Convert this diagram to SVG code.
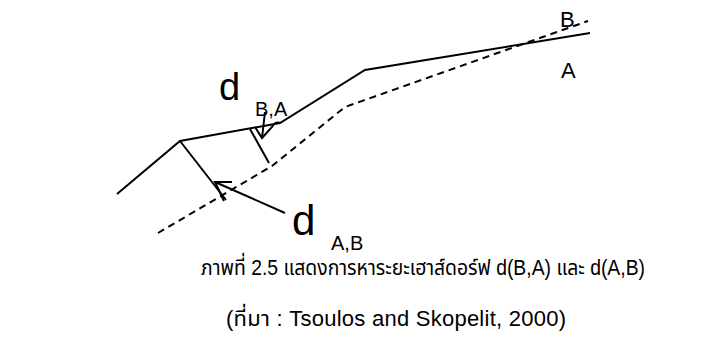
<svg xmlns="http://www.w3.org/2000/svg" width="701" height="349" viewBox="0 0 701 349">
<style>
.ln{fill:none;stroke:#000;stroke-width:2;stroke-linejoin:miter;stroke-linecap:butt}
.dash{stroke-dasharray:7,5}
.t{font-family:"Liberation Sans",Arial,sans-serif;fill:#000}
.cap{font-family:"Liberation Sans","Noto Sans Thai","Noto Sans",sans-serif;font-size:22px;fill:#000}
</style>
<rect width="701" height="349" fill="#fff"/>
<g id="lineA">
<polyline class="ln" points="117,194 180,141 280,123 365,70 590,33"/>
</g>
<g id="lineB">
<polyline class="ln dash" points="158,233 272,166 345,107 588,21"/>
</g>
<g id="connectors">
<line class="ln" x1="180" y1="141" x2="226" y2="200"/>
<line class="ln" x1="250" y1="129" x2="269" y2="163"/>
<polyline class="ln" points="285,213 215,182"/>
<polyline class="ln" points="232,182 215,182 224,201"/>
<polyline class="ln" points="265,112 262,138"/>
<path class="ln" d="M255,127 L262,138 L272,127 Q275,121 281,123"/>
</g>
<g id="labels">
<text class="t" x="219" y="100" font-size="38">d</text>
<text class="t" x="255" y="116" font-size="20">B,A</text>
<text class="t" x="292" y="235" font-size="42">d</text>
<text class="t" x="331" y="250" font-size="20">A,B</text>
<text class="t" x="560" y="27" font-size="22">B</text>
<text class="t" x="561" y="78" font-size="22">A</text>
</g>
<g id="caption">
<text class="cap" transform="translate(201,275) scale(0.88,1)" x="0" y="0">ภาพที่ 2.5 แสดงการหาระยะเฮาส์ดอร์ฟ d(B,A) และ d(A,B)</text>
<text class="cap" x="226" y="326" textLength="340">(ที่มา : Tsoulos and Skopelit, 2000)</text>
</g>
</svg>
